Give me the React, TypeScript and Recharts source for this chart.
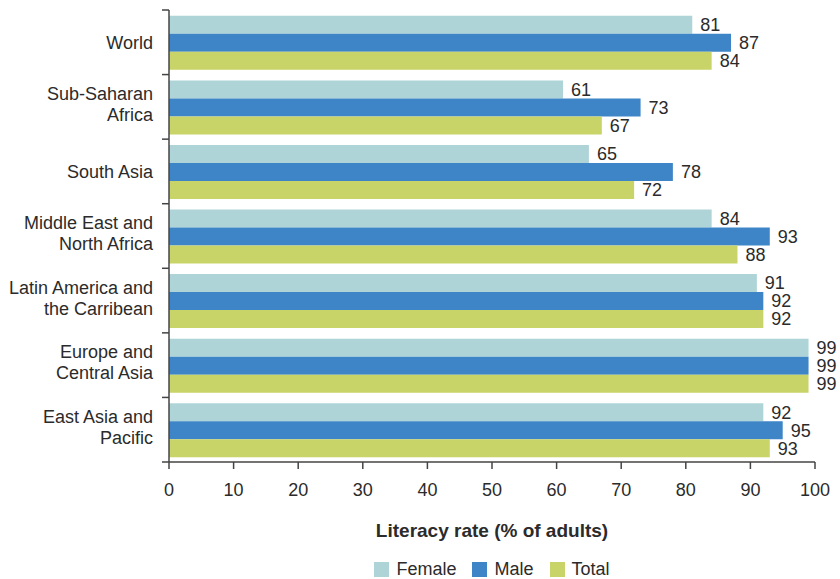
import React from 'react';
import { BarChart, Bar, XAxis, YAxis, Legend, LabelList, Label } from 'recharts';

const regions = [
  'World',
  'Sub-Saharan\nAfrica',
  'South Asia',
  'Middle East and\nNorth Africa',
  'Latin America and\nthe Carribean',
  'Europe and\nCentral Asia',
  'East Asia and\nPacific',
];
const female = [81, 61, 65, 84, 91, 99, 92];
const male = [87, 73, 78, 93, 92, 99, 95];
const total = [84, 67, 72, 88, 92, 99, 93];
const xTicks = [0, 10, 20, 30, 40, 50, 60, 70, 80, 90, 100];

const data = regions.map((region, i) => ({
  region,
  female: female[i],
  male: male[i],
  total: total[i],
}));

const FONT = '"Liberation Sans", Arial, sans-serif';
const TEXT = '#2b2b2b';
const AXIS = '#444';
const AXIS_X = 169;

const series = [
  { key: 'female', name: 'Female', color: '#aed4d8' },
  { key: 'male', name: 'Male', color: '#3d85c6' },
  { key: 'total', name: 'Total', color: '#c8d368' },
];

// category labels plus tick marks on the band edges
const RegionTick = (props: any) => {
  const { y, payload, index } = props;
  const half = payload.offset || 32.3;
  const lines = String(payload.value).split('\n');
  const first = lines.length > 1 ? y - 7 : y + 7;
  return (
    <g>
      <line x1={AXIS_X - 7} x2={AXIS_X} y1={y - half} y2={y - half} stroke={AXIS} strokeWidth={1.5} />
      {index === regions.length - 1 && (
        <line x1={AXIS_X - 7} x2={AXIS_X} y1={y + half} y2={y + half} stroke={AXIS} strokeWidth={1.5} />
      )}
      <text textAnchor="end" fontSize={18} fill={TEXT} fontFamily={FONT}>
        {lines.map((l, i) => (
          <tspan key={i} x={AXIS_X - 16} y={first + i * 21}>{l}</tspan>
        ))}
      </text>
    </g>
  );
};

const LegendContent = () => (
  <div style={{ display: 'flex', justifyContent: 'center', gap: 16, fontFamily: FONT, fontSize: 18, color: TEXT, height: 20, alignItems: 'center' }}>
    {series.map(s => (
      <span key={s.key} style={{ display: 'flex', alignItems: 'center' }}>
        <span style={{ width: 15, height: 15, background: s.color, display: 'inline-block', marginRight: 7 }} />
        {s.name}
      </span>
    ))}
  </div>
);

export default function App() {
  return (
    <div style={{ position: 'absolute', left: 0, top: 0, width: 840, height: 579, overflow: 'hidden', background: '#fff' }}>
      <BarChart
        width={840}
        height={579}
        data={data}
        layout="vertical"
        margin={{ top: 10, right: 25, left: 0, bottom: 0 }}
        barCategoryGap="9%"
        barGap={0}
      >
        <XAxis
          type="number"
          domain={[0, 100]}
          ticks={xTicks}
          height={97}
          stroke={AXIS}
          strokeWidth={1.5}
          tickSize={7}
          tickMargin={14}
          tick={{ fill: TEXT, fontSize: 18, fontFamily: FONT }}
        >
          <Label
            value="Literacy rate (% of adults)"
            position="insideBottom"
            offset={22}
            style={{ fill: TEXT, fontSize: 19, fontWeight: 'bold', fontFamily: FONT }}
          />
        </XAxis>
        <YAxis
          type="category"
          dataKey="region"
          width={169}
          stroke={AXIS}
          strokeWidth={1.5}
          tickLine={false}
          tick={<RegionTick />}
          interval={0}
        />
        <Legend
          verticalAlign="bottom"
          content={<LegendContent />}
          wrapperStyle={{ left: 169, width: 646, bottom: 0 }}
        />
        {series.map(s => (
          <Bar key={s.key} dataKey={s.key} name={s.name} fill={s.color} isAnimationActive={false}>
            <LabelList dataKey={s.key} position="right" offset={8} fill={TEXT} fontSize={18} fontFamily={FONT} />
          </Bar>
        ))}
      </BarChart>
    </div>
  );
}
